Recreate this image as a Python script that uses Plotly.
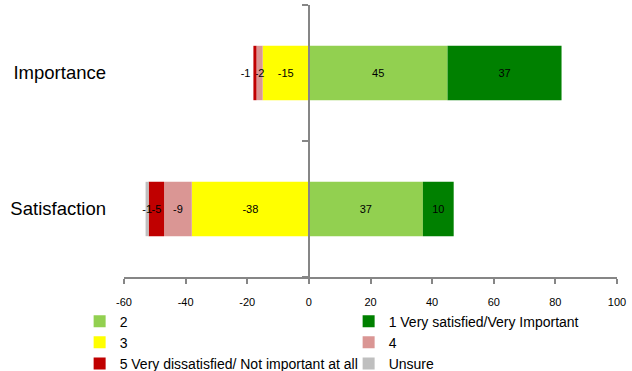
import plotly.graph_objects as go

categories = ["Importance", "Satisfaction"]
series_names = ["2", "1 Very satisfied/Very Important", "3", "4",
                "5 Very dissatisfied/ Not important at all", "Unsure"]
v2 = [45, 37]
v1 = [37, 10]
v3 = [-15, -38]
v4 = [-2, -9]
v5 = [-1, -5]
vunsure = [None, -1]
series_values = [v2, v1, v3, v4, v5, vunsure]
colors = ["#92D050", "#008000", "#FFFF00", "#DA9694", "#C00000", "#BFBFBF"]

x_ticks = [-60, -40, -20, 0, 20, 40, 60, 80, 100]
x_tick_labels = [str(t) for t in x_ticks]

FONT = "Liberation Sans"
fig = go.Figure()
for name, vals, col in zip(series_names, series_values, colors):
    positions = []
    labels = []
    for cat, v in zip(categories, vals):
        labels.append("" if v is None else str(v))
        # the outermost tiny red segment in "Importance" has its label outside
        if name.startswith("5") and cat == "Importance":
            positions.append("outside")
        else:
            positions.append("inside")
    fig.add_trace(go.Bar(
        y=categories, x=vals, name=name, orientation="h",
        marker=dict(color=col, line=dict(width=0)),
        text=labels, texttemplate="%{text}", textposition=positions,
        textangle=0, insidetextanchor="middle", constraintext="none",
        textfont=dict(family=FONT, size=11, color="#000000"),
        cliponaxis=False, hoverinfo="skip",
    ))

# invisible trace on the secondary axis that carries the vertical axis at x=0
fig.add_trace(go.Scatter(x=[None], y=[None], yaxis="y2", showlegend=False,
                         hoverinfo="skip"))

fig.update_layout(
    width=632, height=371,
    margin=dict(l=124, r=15, t=5, b=94, autoexpand=False),
    barmode="relative", bargap=0.6,
    plot_bgcolor="white", paper_bgcolor="white",
    font=dict(family=FONT, color="#000000"),
    xaxis=dict(range=[x_ticks[0], x_ticks[-1]], tickvals=x_ticks,
               ticktext=x_tick_labels,
               showgrid=False, zeroline=False, showline=True,
               linecolor="#868686", linewidth=1.5, ticks="outside",
               ticklen=5, tickcolor="#868686", tickwidth=1.5,
               ticklabelstandoff=9,
               tickfont=dict(family=FONT, size=11, color="#000000")),
    yaxis=dict(type="category", categoryorder="array", categoryarray=categories,
               autorange="reversed", showgrid=False, zeroline=False,
               showline=False, ticks="", ticklabelstandoff=17,
               tickfont=dict(family=FONT, size=18.5, color="#000000")),
    yaxis2=dict(overlaying="y", anchor="free",
                position=(0 - x_ticks[0]) / (x_ticks[-1] - x_ticks[0]),
                range=[1.5, -0.5], tickvals=[-0.5, 0.5, 1.5],
                showticklabels=False, showgrid=False, zeroline=False,
                showline=True, linecolor="#868686", linewidth=2,
                ticks="outside", ticklen=6, tickcolor="#868686", tickwidth=2),
    legend=dict(orientation="h", x=-0.09, xanchor="left", y=-0.105,
                yanchor="top", entrywidth=224, entrywidthmode="pixels",
                font=dict(family=FONT, size=14, color="#000000"),
                traceorder="normal", itemclick=False),
    showlegend=True,
)

fig.write_html("out.html")
